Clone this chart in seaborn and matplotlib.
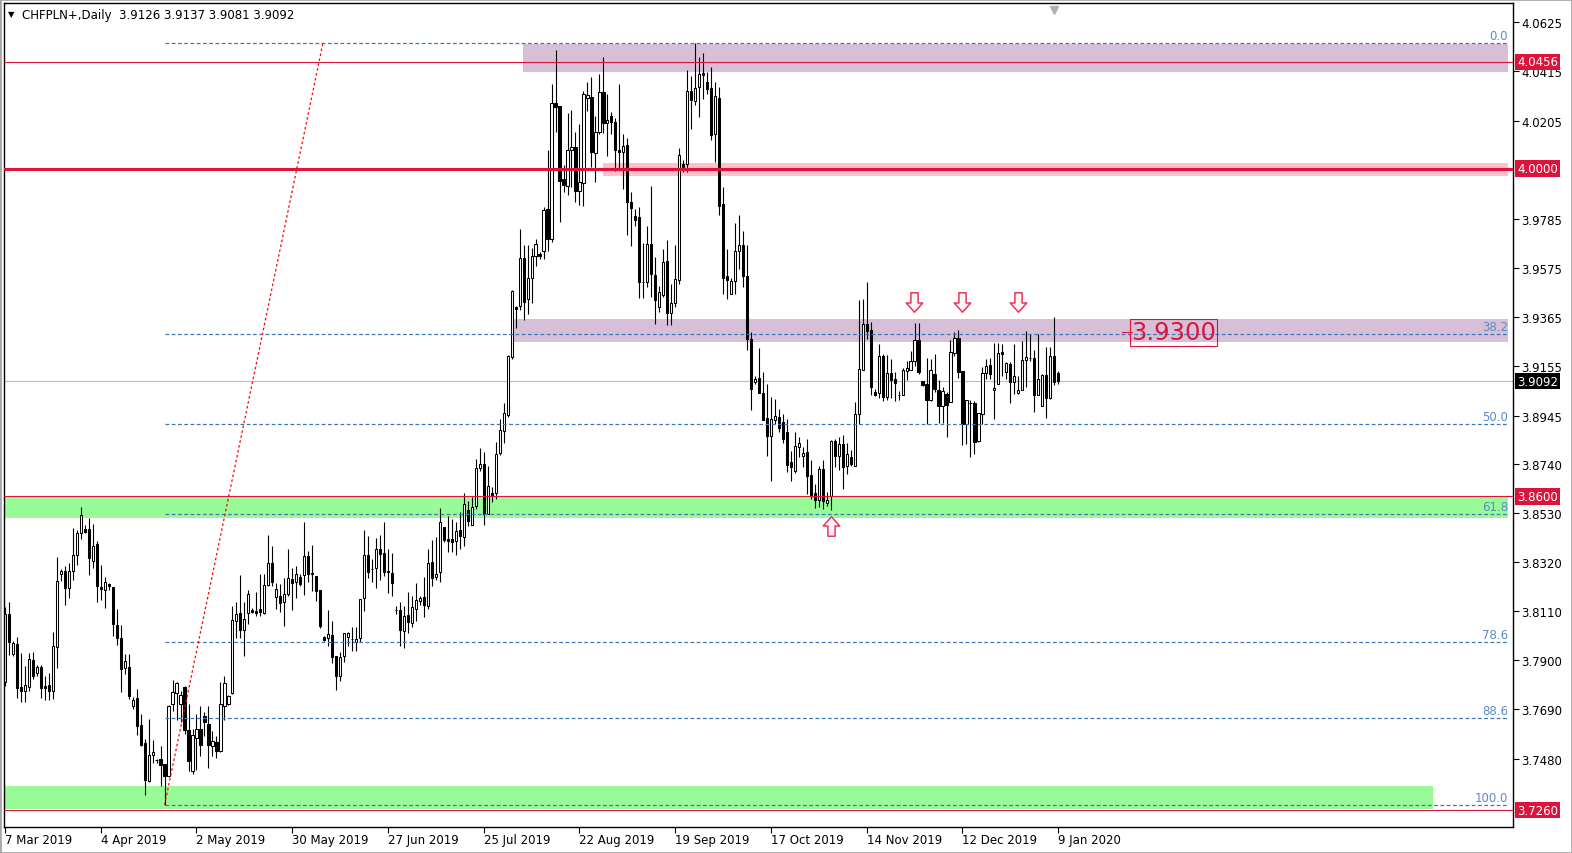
import numpy as np
import pandas as pd
import matplotlib
matplotlib.use('Agg')
import matplotlib.pyplot as plt
import matplotlib.transforms as mtransforms
from matplotlib.path import Path
from matplotlib.patches import Rectangle
import seaborn as sns

# CHFPLN+ daily candles, 7 Mar 2019 .. 9 Jan 2020
opens = [
    3.7808, 3.8098, 3.7927, 3.7970, 3.7786, 3.7769, 3.7786, 3.7902, 3.7846, 3.7872,
    3.7791, 3.7795, 3.7769, 3.7957, 3.8269, 3.8282, 3.8209, 3.8282, 3.8350, 3.8444,
    3.8461, 3.8461, 3.8324, 3.8397, 3.8213, 3.8200, 3.8226, 3.8213, 3.8051, 3.7996,
    3.7867, 3.7872, 3.7705, 3.7739, 3.7624, 3.7547, 3.7385, 3.7496, 3.7475, 3.7479,
    3.7458, 3.7406, 3.7714, 3.7761, 3.7714, 3.7786, 3.7603, 3.7428, 3.7568, 3.7607,
    3.7662, 3.7628, 3.7534, 3.7551, 3.7513, 3.7705, 3.7714, 3.7761, 3.8068, 3.8102,
    3.8030, 3.8102, 3.8115, 3.8111, 3.8119, 3.8102, 3.8222, 3.8316, 3.8171, 3.8175,
    3.8149, 3.8183, 3.8248, 3.8235, 3.8256, 3.8264, 3.8346, 3.8273, 3.8260, 3.8200,
    3.7999, 3.7996, 3.8008, 3.7919, 3.7833, 3.7919, 3.8000, 3.7991, 3.7978, 3.7996,
    3.8166, 3.8350, 3.8290, 3.8294, 3.8376, 3.8358, 3.8282, 3.8273, 3.8115, 3.8115,
    3.8026, 3.8094, 3.8060, 3.8119, 3.8153, 3.8171, 3.8132, 3.8320, 3.8256, 3.8277,
    3.8469, 3.8418, 3.8418, 3.8410, 3.8457, 3.8427, 3.8542, 3.8478, 3.8559, 3.8721,
    3.8738, 3.8525, 3.8615, 3.8615, 3.8786, 3.8879, 3.8948, 3.9195, 3.9409, 3.9413,
    3.9618, 3.9443, 3.9533, 3.9627, 3.9635, 3.9648, 3.9827, 3.9699, 4.0280, 4.0267,
    3.9955, 3.9926, 4.0079, 4.0092, 3.9904, 3.9938, 4.0301, 4.0306, 4.0066, 4.0156,
    4.0327, 4.0195, 4.0224, 4.0199, 4.0079, 4.0071, 4.0101, 3.9857, 3.9797, 3.9793,
    3.9516, 3.9516, 3.9678, 3.9546, 3.9409, 3.9460, 3.9605, 3.9383, 3.9426, 3.9524,
    4.0019, 4.0019, 4.0331, 4.0288, 4.0348, 4.0408, 4.0370, 4.0344, 4.0148, 4.0301,
    3.9849, 3.9541, 3.9464, 3.9520, 3.9648, 3.9674, 3.9541, 3.9272, 3.9089, 3.9106,
    3.9042, 3.8935, 3.8858, 3.8926, 3.8939, 3.8918, 3.8875, 3.8747, 3.8709, 3.8811,
    3.8773, 3.8790, 3.8691, 3.8615, 3.8585, 3.8717, 3.8572, 3.8602, 3.8837, 3.8773,
    3.8824, 3.8730, 3.8768, 3.8730, 3.8952, 3.9140, 3.9336, 3.9311, 3.9046, 3.9042,
    3.9200, 3.9025, 3.9127, 3.9102, 3.9033, 3.9033, 3.9135, 3.9140, 3.9178, 3.9268,
    3.9093, 3.9080, 3.9012, 3.9123, 3.9054, 3.8986, 3.9037, 3.9003, 3.9213, 3.9277,
    3.9135, 3.8909, 3.8999, 3.8999, 3.8837, 3.8952, 3.9127, 3.9161, 3.9054, 3.9080,
    3.9217, 3.9131, 3.9166, 3.9089, 3.9042, 3.9054, 3.9183, 3.9191, 3.9191, 3.9033,
    3.8986, 3.9119, 3.9020, 3.9200, 3.9126,
]
highs = [
    3.8128, 3.8149, 3.7983, 3.8000, 3.7931, 3.7876, 3.7931, 3.7936, 3.7880, 3.7880,
    3.7833, 3.7846, 3.8021, 3.8341, 3.8290, 3.8303, 3.8316, 3.8465, 3.8457, 3.8555,
    3.8478, 3.8508, 3.8482, 3.8410, 3.8307, 3.8256, 3.8230, 3.8213, 3.8119, 3.8051,
    3.7927, 3.7927, 3.7744, 3.7778, 3.7671, 3.7564, 3.7650, 3.7560, 3.7479, 3.7534,
    3.7458, 3.7710, 3.7816, 3.7808, 3.7769, 3.7791, 3.7714, 3.7607, 3.7671, 3.7705,
    3.7679, 3.7705, 3.7598, 3.7577, 3.7808, 3.7833, 3.7752, 3.8132, 3.8149, 3.8264,
    3.8149, 3.8200, 3.8124, 3.8192, 3.8269, 3.8269, 3.8435, 3.8388, 3.8230, 3.8226,
    3.8252, 3.8376, 3.8294, 3.8303, 3.8269, 3.8491, 3.8367, 3.8393, 3.8260, 3.8200,
    3.8004, 3.8115, 3.8068, 3.7919, 3.7936, 3.8017, 3.8021, 3.8043, 3.8043, 3.8162,
    3.8457, 3.8431, 3.8333, 3.8422, 3.8435, 3.8491, 3.8376, 3.8359, 3.8132, 3.8149,
    3.8132, 3.8192, 3.8175, 3.8230, 3.8175, 3.8256, 3.8376, 3.8414, 3.8427, 3.8551,
    3.8469, 3.8516, 3.8504, 3.8491, 3.8534, 3.8615, 3.8581, 3.8598, 3.8760, 3.8807,
    3.8790, 3.8730, 3.8640, 3.8832, 3.8931, 3.8999, 3.9204, 3.9481, 3.9413, 3.9742,
    3.9674, 3.9674, 3.9661, 3.9699, 3.9644, 3.9836, 4.0079, 4.0361, 4.0506, 4.0267,
    4.0015, 4.0237, 4.0250, 4.0156, 4.0190, 4.0331, 4.0370, 4.0391, 4.0224, 4.0404,
    4.0476, 4.0318, 4.0242, 4.0216, 4.0361, 4.0148, 4.0131, 3.9900, 3.9827, 3.9836,
    3.9682, 3.9755, 3.9926, 3.9622, 3.9499, 3.9657, 3.9695, 3.9507, 3.9674, 4.0088,
    4.0037, 4.0421, 4.0395, 4.0536, 4.0476, 4.0493, 4.0412, 4.0434, 4.0370, 4.0348,
    3.9921, 3.9657, 3.9533, 3.9768, 3.9802, 3.9733, 3.9674, 3.9302, 3.9114, 3.9234,
    3.9131, 3.9080, 3.9025, 3.9016, 3.8973, 3.8952, 3.8931, 3.8794, 3.8875, 3.8854,
    3.8811, 3.8845, 3.8756, 3.8653, 3.8730, 3.8756, 3.8619, 3.8841, 3.8845, 3.8854,
    3.8862, 3.8828, 3.8798, 3.9003, 3.9439, 3.9443, 3.9516, 3.9345, 3.9059, 3.9251,
    3.9208, 3.9204, 3.9187, 3.9131, 3.9050, 3.9148, 3.9178, 3.9221, 3.9341, 3.9341,
    3.9093, 3.9191, 3.9187, 3.9208, 3.9097, 3.9067, 3.9046, 3.9268, 3.9302, 3.9311,
    3.9135, 3.9012, 3.9012, 3.9008, 3.8956, 3.9153, 3.9187, 3.9191, 3.9255, 3.9255,
    3.9251, 3.9174, 3.9174, 3.9251, 3.9114, 3.9264, 3.9306, 3.9294, 3.9225, 3.9294,
    3.9123, 3.9238, 3.9238, 3.9366, 3.9137,
]
lows = [
    3.7791, 3.7923, 3.7919, 3.7739, 3.7722, 3.7722, 3.7769, 3.7820, 3.7833, 3.7739,
    3.7731, 3.7731, 3.7735, 3.7867, 3.8239, 3.8136, 3.8166, 3.8243, 3.8307, 3.8418,
    3.8444, 3.8264, 3.8294, 3.8149, 3.8158, 3.8124, 3.8200, 3.8004, 3.7966, 3.7765,
    3.7842, 3.7735, 3.7692, 3.7581, 3.7534, 3.7325, 3.7381, 3.7462, 3.7462, 3.7363,
    3.7282, 3.7400, 3.7684, 3.7645, 3.7637, 3.7586, 3.7428, 3.7415, 3.7432, 3.7492,
    3.7577, 3.7440, 3.7492, 3.7483, 3.7509, 3.7645, 3.7710, 3.7757, 3.7996, 3.7996,
    3.7919, 3.8055, 3.8102, 3.8089, 3.8089, 3.8098, 3.8218, 3.8218, 3.8119, 3.8107,
    3.8047, 3.8175, 3.8115, 3.8166, 3.8218, 3.8179, 3.8235, 3.8196, 3.8154, 3.8038,
    3.7983, 3.7961, 3.7889, 3.7774, 3.7812, 3.7893, 3.7961, 3.7940, 3.7940, 3.7978,
    3.8111, 3.8252, 3.8235, 3.8209, 3.8243, 3.8260, 3.8188, 3.8175, 3.8098, 3.7961,
    3.7953, 3.8017, 3.8043, 3.8068, 3.8136, 3.8085, 3.8119, 3.8218, 3.8243, 3.8235,
    3.8405, 3.8363, 3.8363, 3.8350, 3.8376, 3.8388, 3.8474, 3.8478, 3.8546, 3.8709,
    3.8478, 3.8525, 3.8576, 3.8589, 3.8777, 3.8828, 3.8940, 3.9187, 3.9319, 3.9396,
    3.9353, 3.9379, 3.9426, 3.9584, 3.9614, 3.9614, 3.9648, 3.9686, 4.0156, 3.9772,
    3.9900, 3.9887, 3.9921, 3.9857, 3.9844, 3.9840, 4.0246, 4.0007, 3.9943, 4.0148,
    4.0152, 4.0054, 4.0148, 3.9990, 3.9998, 3.9913, 3.9716, 3.9669, 3.9755, 3.9447,
    3.9447, 3.9494, 3.9452, 3.9336, 3.9388, 3.9452, 3.9332, 3.9332, 3.9409, 3.9507,
    3.9985, 3.9985, 4.0169, 4.0271, 4.0220, 4.0297, 4.0318, 4.0122, 4.0028, 3.9802,
    3.9464, 3.9443, 3.9464, 3.9464, 3.9571, 3.9494, 3.9225, 3.8969, 3.9080, 3.9042,
    3.8926, 3.8773, 3.8666, 3.8909, 3.8875, 3.8828, 3.8704, 3.8666, 3.8700, 3.8768,
    3.8726, 3.8610, 3.8589, 3.8551, 3.8555, 3.8546, 3.8559, 3.8542, 3.8726, 3.8713,
    3.8632, 3.8696, 3.8730, 3.8730, 3.8909, 3.9140, 3.9272, 3.9033, 3.9029, 3.9020,
    3.9008, 3.9012, 3.9020, 3.9008, 3.9012, 3.9033, 3.9097, 3.9140, 3.9157, 3.9123,
    3.9072, 3.8909, 3.9008, 3.9046, 3.8914, 3.8914, 3.8854, 3.9003, 3.9200, 3.9106,
    3.8820, 3.8824, 3.8768, 3.8781, 3.8832, 3.8909, 3.9102, 3.9102, 3.8931, 3.9080,
    3.9114, 3.9102, 3.8999, 3.9037, 3.9037, 3.9054, 3.9067, 3.9178, 3.8960, 3.9033,
    3.8986, 3.8935, 3.9016, 3.9076, 3.9081,
]
closes = [
    3.8098, 3.7978, 3.7974, 3.7782, 3.7769, 3.7795, 3.7906, 3.7833, 3.7872, 3.7782,
    3.7782, 3.7769, 3.7961, 3.8239, 3.8282, 3.8209, 3.8282, 3.8350, 3.8444, 3.8521,
    3.8448, 3.8337, 3.8388, 3.8218, 3.8205, 3.8235, 3.8218, 3.8055, 3.7996, 3.7863,
    3.7897, 3.7748, 3.7731, 3.7620, 3.7539, 3.7389, 3.7496, 3.7509, 3.7475, 3.7453,
    3.7406, 3.7705, 3.7765, 3.7803, 3.7752, 3.7603, 3.7470, 3.7581, 3.7607, 3.7539,
    3.7637, 3.7539, 3.7556, 3.7513, 3.7714, 3.7803, 3.7748, 3.8072, 3.8098, 3.8030,
    3.8077, 3.8183, 3.8107, 3.8102, 3.8107, 3.8222, 3.8316, 3.8235, 3.8205, 3.8145,
    3.8183, 3.8252, 3.8230, 3.8269, 3.8226, 3.8346, 3.8269, 3.8269, 3.8196, 3.8047,
    3.7987, 3.8013, 3.7914, 3.7833, 3.7914, 3.8017, 3.8017, 3.7991, 3.7991, 3.8162,
    3.8350, 3.8277, 3.8290, 3.8376, 3.8354, 3.8277, 3.8277, 3.8230, 3.8115, 3.8030,
    3.8090, 3.8064, 3.8128, 3.8158, 3.8166, 3.8136, 3.8316, 3.8252, 3.8269, 3.8491,
    3.8414, 3.8410, 3.8405, 3.8452, 3.8431, 3.8568, 3.8495, 3.8555, 3.8721, 3.8738,
    3.8525, 3.8645, 3.8602, 3.8781, 3.8884, 3.8956, 3.9200, 3.9477, 3.9400, 3.9618,
    3.9430, 3.9533, 3.9627, 3.9678, 3.9627, 3.9823, 3.9699, 4.0280, 4.0263, 3.9947,
    3.9930, 4.0079, 4.0092, 3.9904, 3.9943, 4.0318, 4.0314, 4.0071, 4.0156, 4.0327,
    4.0195, 4.0207, 4.0199, 4.0079, 4.0071, 4.0096, 3.9857, 3.9832, 3.9780, 3.9516,
    3.9516, 3.9678, 3.9550, 3.9439, 3.9473, 3.9601, 3.9383, 3.9426, 3.9528, 4.0058,
    4.0007, 4.0331, 4.0293, 4.0344, 4.0404, 4.0400, 4.0340, 4.0143, 4.0310, 3.9840,
    3.9533, 3.9524, 3.9520, 3.9648, 3.9674, 3.9541, 3.9272, 3.9059, 3.9102, 3.9042,
    3.8926, 3.8858, 3.8931, 3.8943, 3.8892, 3.8845, 3.8734, 3.8726, 3.8815, 3.8828,
    3.8786, 3.8687, 3.8602, 3.8585, 3.8717, 3.8581, 3.8585, 3.8837, 3.8773, 3.8824,
    3.8726, 3.8781, 3.8738, 3.8952, 3.9144, 3.9336, 3.9306, 3.9067, 3.9033, 3.9200,
    3.9025, 3.9127, 3.9097, 3.9084, 3.9033, 3.9140, 3.9148, 3.9178, 3.9268, 3.9131,
    3.9076, 3.9012, 3.9140, 3.9059, 3.8986, 3.9050, 3.8990, 3.9217, 3.9277, 3.9131,
    3.8909, 3.9012, 3.8999, 3.8832, 3.8956, 3.9127, 3.9157, 3.9123, 3.9063, 3.9213,
    3.9208, 3.9170, 3.9089, 3.9114, 3.9054, 3.9183, 3.9195, 3.9191, 3.9033, 3.9102,
    3.9119, 3.9020, 3.9200, 3.9089, 3.9092,
]

date_labels = ['7 Mar 2019', '4 Apr 2019', '2 May 2019', '30 May 2019', '27 Jun 2019',
               '25 Jul 2019', '22 Aug 2019', '19 Sep 2019', '17 Oct 2019',
               '14 Nov 2019', '12 Dec 2019', '9 Jan 2020']
price_ticks = [4.0625, 4.0415, 4.0205, 3.9785, 3.9575, 3.9365, 3.9155, 3.8945,
               3.8740, 3.8530, 3.8320, 3.8110, 3.7900, 3.7690, 3.7480]

# fibo retracement drawn from the April low to the September high
fib_levels = [0.0, 38.2, 50.0, 61.8, 78.6, 88.6, 100.0]
fib_high = 4.0536
fib_low = 3.7282

# marked levels shown on the price scale
red_levels = [4.0456, 4.0000, 3.8600, 3.7260]
last_price = 3.9092
key_level = 3.9300

df = pd.DataFrame({'open': opens, 'high': highs, 'low': lows, 'close': closes})
df['bar'] = np.arange(len(df))
df['up'] = df['close'] >= df['open']

sns.set_theme(style='white')
plt.rcParams['font.family'] = ['DejaVu Sans']

RED = '#dc143c'
FIB = '#3a78b8'

fig = plt.figure(figsize=(15.72, 8.54), dpi=100)
ax = fig.add_axes([4 / 1572, 26 / 854, 1509 / 1572, 824 / 854])
ax.set_xlim(-0.25, 378.0)
ax.set_ylim(3.7188, 4.0707)
x_end = 376.8

# zones (behind the candles)
def zone(x0, lo, hi, color, x1=x_end):
    ax.add_patch(Rectangle((x0, lo), x1 - x0, hi - lo, facecolor=color,
                           edgecolor='none', zorder=0.5))

zone(129.8, 4.0414, 4.0533, '#d8bfd8')
zone(149.9, 3.9968, 4.0024, '#ffc0cb')
zone(127.3, 3.9261, 3.9358, '#d8bfd8')
zone(-0.25, 3.8508, 3.8601, '#98fb98')
zone(-0.25, 3.7265, 3.7364, '#98fb98', x1=357.9)

ax.axhline(last_price, color='#c0c0c0', lw=0.9, zorder=0.8)

# candles
ax.vlines(df['bar'], df['low'], df['high'], color='black', lw=0.8, zorder=2)
body_lo = np.minimum(df['open'], df['close'])
body_h = (df['close'] - df['open']).abs()
ax.bar(df['bar'], body_h, bottom=body_lo, width=0.55,
       color=np.where(df['up'], 'white', 'black'), edgecolor='black',
       linewidth=0.75, zorder=2.2)

# horizontal levels
for lvl in red_levels:
    ax.axhline(lvl, color=RED, lw=2.2 if lvl == 4.0 else 0.8, zorder=3)

# fibo
fib_start = 40
for f in fib_levels:
    p = fib_high - f / 100 * (fib_high - fib_low)
    ax.hlines(p, fib_start, x_end, colors=FIB, linestyles=(0, (3, 2)), lw=0.9, zorder=3)
    ax.text(x_end, p + 0.0003, f'{f:.1f}', ha='right', va='bottom', color='#5b8bc5',
            fontsize=8.5, zorder=3)
ax.plot([fib_start, 79.7], [fib_low, fib_high], color='red', ls=(0, (2, 2)),
        lw=0.9, zorder=3)

# key level label
ax.text(292.9, key_level, '3.9300', fontsize=17.5, color=RED, ha='center', va='center',
        zorder=4, bbox=dict(boxstyle='square,pad=0.06', fc='none', ec=RED, lw=0.8))
ax.plot([280, 282.5], [key_level, key_level], color=RED, lw=0.8, zorder=4)

# arrows
down = Path([(-0.37, 1), (0.37, 1), (0.37, -0.05), (0.85, -0.05), (0, -1),
             (-0.85, -0.05), (-0.37, -0.05), (-0.37, 1)], closed=True)
up = Path([(x, -y) for x, y in down.vertices], closed=True)
ax.plot([227.8, 239.8, 253.9], [3.9428] * 3, ls='none', marker=down, ms=14,
        mfc='#fff4f6', mec='#e8365d', mew=1.1, zorder=4)
ax.plot([207.0], [3.8474], ls='none', marker=up, ms=14,
        mfc='#fff4f6', mec='#e8365d', mew=1.1, zorder=4)

# axes, ticks
for s in ax.spines.values():
    s.set_color('black')
    s.set_linewidth(1.0)
ax.set_xticks(np.arange(0, 24 * len(date_labels), 24))
ax.set_xticklabels(date_labels)
for lbl in ax.get_xticklabels():
    lbl.set_horizontalalignment('left')
ax.tick_params(axis='x', direction='out', length=4, width=0.8, labelsize=8.5,
               pad=0.5, colors='black', bottom=True)
ax.yaxis.tick_right()
ax.set_yticks(price_ticks)
ax.set_yticklabels([f'{p:.4f}' for p in price_ticks])
ax.tick_params(axis='y', direction='out', length=4, width=0.8, labelsize=8.5,
               pad=2, colors='black', right=True)
ax.set_xlabel('')
ax.set_ylabel('')

# price boxes on the scale
trans = mtransforms.blended_transform_factory(ax.transAxes, ax.transData)
for lvl in red_levels:
    ax.text(1.0 + 4 / 1509, lvl, f'{lvl:.4f}', transform=trans, ha='left', va='center',
            fontsize=8.5, color='white', clip_on=False, zorder=6,
            bbox=dict(boxstyle='square,pad=0.15', fc=RED, ec='none'))
ax.text(1.0 + 4 / 1509, last_price, f'{last_price:.4f}', transform=trans, ha='left',
        va='center', fontsize=8.5, color='white', clip_on=False, zorder=6,
        bbox=dict(boxstyle='square,pad=0.15', fc='black', ec='none'))

# chart shift marker
shift_tr = mtransforms.blended_transform_factory(ax.transData, ax.transAxes)
ax.plot([262.9], [0.992], marker='v', ms=6, color='#b0b0b0', transform=shift_tr,
        clip_on=False, zorder=6)

# header
fig.text(8 / 1572, 1 - 15 / 854, '\u25bc', fontsize=6, va='center', color='black')
fig.text(22 / 1572, 1 - 15 / 854, 'CHFPLN+,Daily  3.9126 3.9137 3.9081 3.9092',
         fontsize=8.5, va='center', color='black')

fig.add_artist(Rectangle((0, 0), 1, 1, transform=fig.transFigure, fill=False,
                         ec='#a8a8a8', lw=2))

fig.savefig('out.png', dpi=100)
